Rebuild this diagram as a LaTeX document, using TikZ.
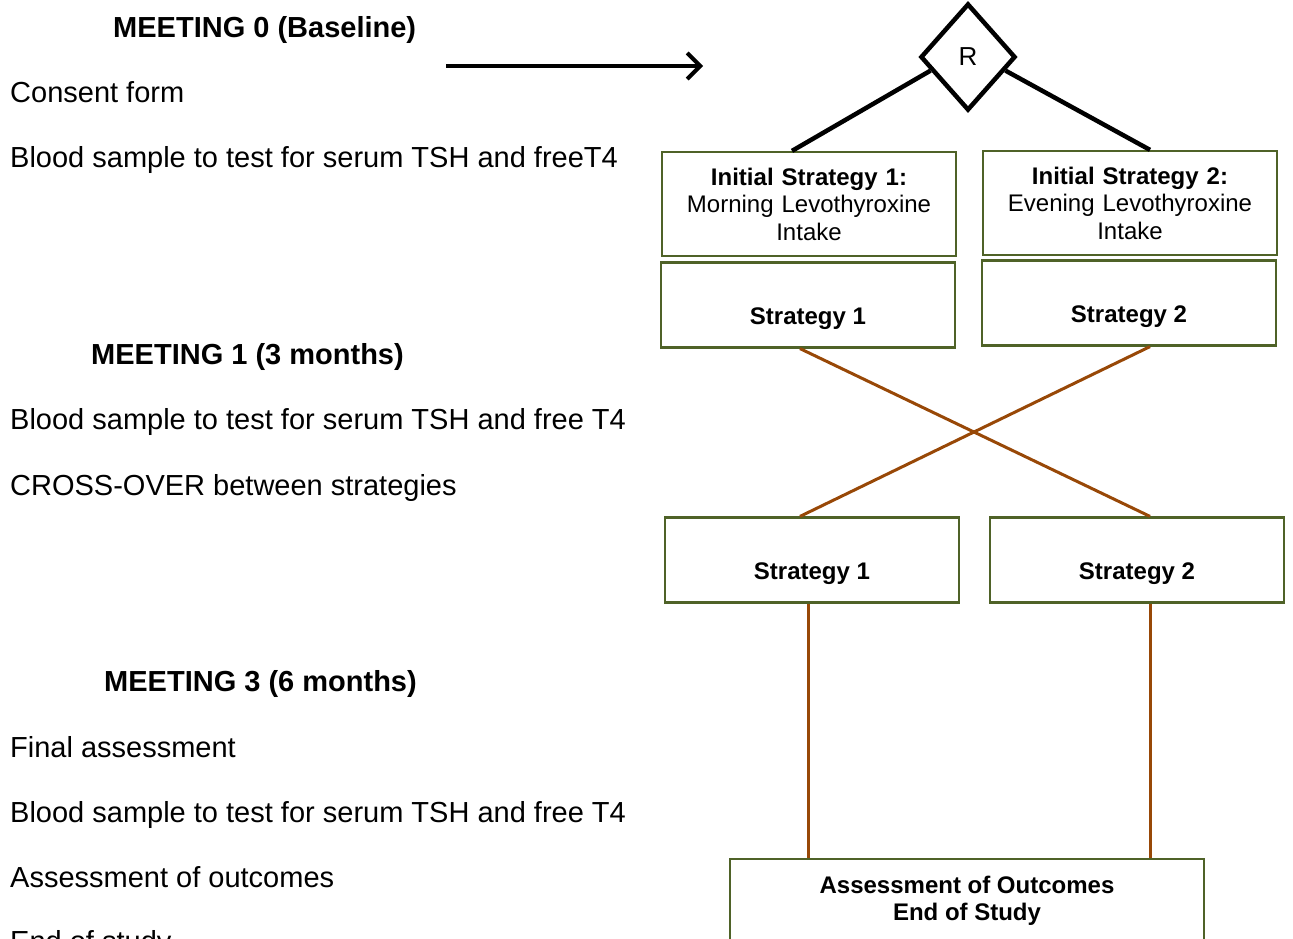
\documentclass[tikz,border=0pt]{standalone}
\usepackage{fontspec}
\setmainfont{Liberation Sans}
\usetikzlibrary{arrows.meta,positioning,shapes.geometric}
\definecolor{cBox}{HTML}{4F6228}
\definecolor{cLnk}{HTML}{984807}
\newcommand{\bodyfs}{\fontsize{29}{35}\selectfont}
\newcommand{\boxfs}{\fontsize{24}{27.5}\selectfont}
\tikzset{
  note/.style ={anchor=west,inner sep=0pt,font=\bodyfs,text height=21pt,text depth=0pt},
  hdr/.style  ={note,font=\bodyfs\bfseries},
  blk/.style  ={draw=cBox,line width=2.2pt,align=center,font=\boxfs,inner sep=0pt,
                minimum width=294pt,minimum height=85pt},
  ini/.style  ={blk,text width=290pt,minimum height=104pt},
  stg/.style  ={blk,font=\boxfs\bfseries,text height=39pt,text depth=0pt},
  rnd/.style  ={draw,shape=diamond,line width=4.5pt,minimum width=95pt,minimum height=107pt,
                inner sep=0pt,font=\fontsize{26}{30}\selectfont},
  arm/.style  ={draw=black,line width=4.5pt},
  lnk/.style  ={draw=cLnk,line width=3pt},
  go/.style   ={-{Straight Barb[length=13pt,width=26pt]},line width=4pt},
}

\begin{document}
\begin{tikzpicture}[x=1pt,y=-1pt]
\useasboundingbox (0,0) rectangle (1293,939);
\clip (0,0) rectangle (1293,939);

% visit schedule, left column
\node[hdr] (m0) at (113,27)  {MEETING 0 (Baseline)};
\node[hdr] (m1) at (91,354)  {MEETING 1 (3 months)};
\node[hdr] (m3) at (104,681) {MEETING 3 (6 months)};
\foreach \n/\y/\t in {cons/92/Consent form,
                      bs0/157/Blood sample to test for serum TSH and freeT4,
                      bs1/419/Blood sample to test for serum TSH and free T4,
                      xov/485/CROSS-OVER between strategies,
                      fass/747/Final assessment,
                      bs3/812/Blood sample to test for serum TSH and free T4,
                      outc/877/Assessment of outcomes,
                      eos/941/End of study}
  {\node[note] (\n) at (10,\y) {\t};}

\coordinate (arrS) at (446,66);
\coordinate (arrE) at (703,66);
\draw[go] (arrS) -- (arrE);

% randomisation and the two arms
\node[rnd] (rand) at (968,57) {R};
\node[ini] (ini1) at (809,204)  {\textbf{Initial Strategy 1:}\\ Morning Levothyroxine\\ Intake};
\node[ini] (ini2) at (1130,203) {\textbf{Initial Strategy 2:}\\ Evening Levothyroxine\\ Intake};
\node[stg] (s1a) at (808,305)  {Strategy 1};
\node[stg] (s2a) at (1129,303) {Strategy 2};
\node[stg] (s1b) at (812,560)  {Strategy 1};
\node[stg] (s2b) at (1137,560) {Strategy 2};
\node[blk,font=\boxfs\bfseries,minimum width=474pt,minimum height=84pt] (fin) at (967,901)
  {Assessment of Outcomes\\ End of Study};

\draw[arm] (rand.200) -- ([xshift=-17pt]ini1.north);
\draw[arm] (rand.-20) -- ([xshift=20pt]ini2.north);

% cross-over and follow-up links
\draw[lnk] ([xshift=-8pt]s1a.south) -- ([xshift=13pt]s2b.north);
\draw[lnk] ([xshift=21pt]s2a.south) -- ([xshift=-12pt]s1b.north);
\draw[lnk] ([xshift=-4pt]s1b.south) -- ([xshift=-4pt]s1b.south |- fin.north);
\draw[lnk] ([xshift=13pt]s2b.south) -- ([xshift=13pt]s2b.south |- fin.north);
\end{tikzpicture}
\end{document}
